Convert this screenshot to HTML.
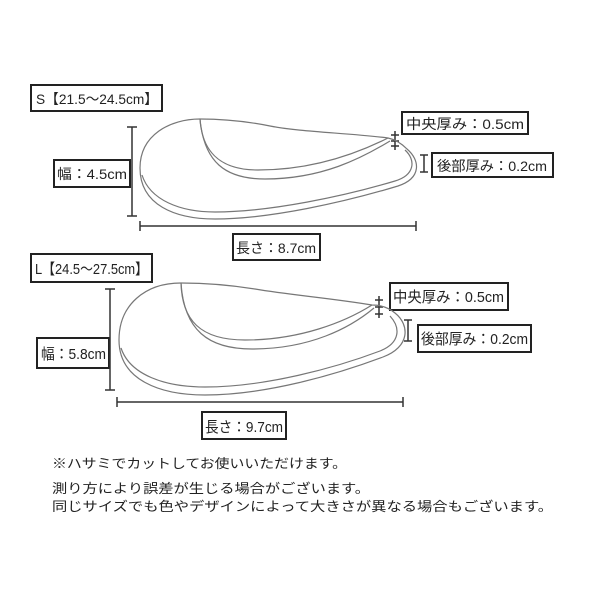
<!DOCTYPE html>
<html><head><meta charset="utf-8"><style>
html,body{margin:0;padding:0;background:#fff;}
svg{display:block;}
text{font-family:"Liberation Sans","Noto Sans CJK JP",sans-serif;fill:#222;}
</style></head><body>
<svg width="600" height="600" viewBox="0 0 600 600" xmlns="http://www.w3.org/2000/svg">
<g fill="none" stroke="#222" stroke-width="2">
<rect x="31" y="85" width="131" height="26"/>
<rect x="54" y="160" width="76" height="27"/>
<rect x="233" y="234" width="87" height="26"/>
<rect x="402" y="112" width="126" height="22"/>
<rect x="432" y="153" width="121" height="24"/>
<rect x="31" y="254" width="121" height="28"/>
<rect x="37" y="338" width="72" height="30"/>
<rect x="202" y="412" width="84" height="27"/>
<rect x="390" y="283" width="118" height="27"/>
<rect x="418" y="325" width="113" height="27"/>
</g>
<g font-size="14">
<text x="36" y="104" textLength="122" lengthAdjust="spacingAndGlyphs">S【21.5～24.5cm】</text>
<text x="57" y="179" textLength="70" lengthAdjust="spacingAndGlyphs">幅：4.5cm</text>
<text x="236" y="253" textLength="80" lengthAdjust="spacingAndGlyphs">長さ：8.7cm</text>
<text x="406" y="129" textLength="118" lengthAdjust="spacingAndGlyphs">中央厚み：0.5cm</text>
<text x="437" y="171" textLength="110" lengthAdjust="spacingAndGlyphs">後部厚み：0.2cm</text>
</g>
<g font-size="15">
<text x="35" y="274" textLength="113" lengthAdjust="spacingAndGlyphs">L【24.5～27.5cm】</text>
<text x="41" y="359" textLength="65" lengthAdjust="spacingAndGlyphs">幅：5.8cm</text>
<text x="205" y="432" textLength="78" lengthAdjust="spacingAndGlyphs">長さ：9.7cm</text>
<text x="393" y="302" textLength="111" lengthAdjust="spacingAndGlyphs">中央厚み：0.5cm</text>
<text x="421" y="344" textLength="107" lengthAdjust="spacingAndGlyphs">後部厚み：0.2cm</text>
</g>
<g fill="none" stroke="#333" stroke-width="1.5">
<line x1="132" y1="127" x2="132" y2="216"/><line x1="127" y1="127" x2="137" y2="127"/><line x1="127" y1="216" x2="137" y2="216"/>
<line x1="140" y1="226" x2="416" y2="226"/><line x1="140" y1="221" x2="140" y2="231"/><line x1="416" y1="221" x2="416" y2="231"/>
<line x1="395" y1="131" x2="395" y2="150"/><line x1="391" y1="135" x2="399" y2="135"/><line x1="391" y1="141" x2="399" y2="141"/><line x1="391" y1="146" x2="399" y2="146"/>
<line x1="424" y1="155" x2="424" y2="172"/><line x1="420" y1="155" x2="428" y2="155"/><line x1="420" y1="172" x2="428" y2="172"/>
<line x1="110" y1="289" x2="110" y2="390"/><line x1="105" y1="289" x2="115" y2="289"/><line x1="105" y1="390" x2="115" y2="390"/>
<line x1="117" y1="402" x2="403" y2="402"/><line x1="117" y1="397" x2="117" y2="407"/><line x1="403" y1="397" x2="403" y2="407"/>
<line x1="379" y1="296" x2="379" y2="318"/><line x1="375" y1="300" x2="383" y2="300"/><line x1="375" y1="307" x2="383" y2="307"/><line x1="375" y1="314" x2="383" y2="314"/>
<line x1="408" y1="320" x2="408" y2="341"/><line x1="404" y1="320" x2="412" y2="320"/><line x1="404" y1="341" x2="412" y2="341"/>
</g>
<g fill="none" stroke="#777" stroke-width="1.2">
<path d="M200,119 C170,119 140,135 140,168 C140,205 175,219 215,219 C270,219 345,202 398,186 C422,178 420,160 407,149 C400,142 393,139 388,138 C350,133 300,132 270,126 C245,121 222,119 200,119 Z"/>
<path d="M142,175 C150,200 180,212 215,212 C270,212 345,196 395,181 C415,175 416,160 405,150"/>
<path d="M200,119 C202,150 218,170 258,170 C315,170 360,152 388,138"/>
<path d="M200,119 C204,162 225,179 265,179 C322,179 362,158 390,141"/>
<path d="M181,283 C145,283 119,305 119,340 C119,380 160,395 205,395 C265,395 335,375 383,357 C410,347 410,325 395,313 C388,307 380,305 372,305 C330,298 290,295 255,289 C230,285 205,283 181,283 Z"/>
<path d="M121,348 C130,375 165,387 205,387 C265,387 335,368 380,351 C400,343 401,328 390,316"/>
<path d="M181,283 C182,320 200,340 245,340 C300,340 345,322 372,305"/>
<path d="M181,283 C184,330 208,349 252,349 C310,349 350,328 374,308"/>
</g>
<g font-size="13">
<text x="52" y="468" textLength="295" lengthAdjust="spacingAndGlyphs">※ハサミでカットしてお使いいただけます。</text>
<text x="52" y="493" textLength="318" lengthAdjust="spacingAndGlyphs">測り方により誤差が生じる場合がございます。</text>
<text x="52" y="511" textLength="501" lengthAdjust="spacingAndGlyphs">同じサイズでも色やデザインによって大きさが異なる場合もございます。</text>
</g>
</svg>
</body></html>
